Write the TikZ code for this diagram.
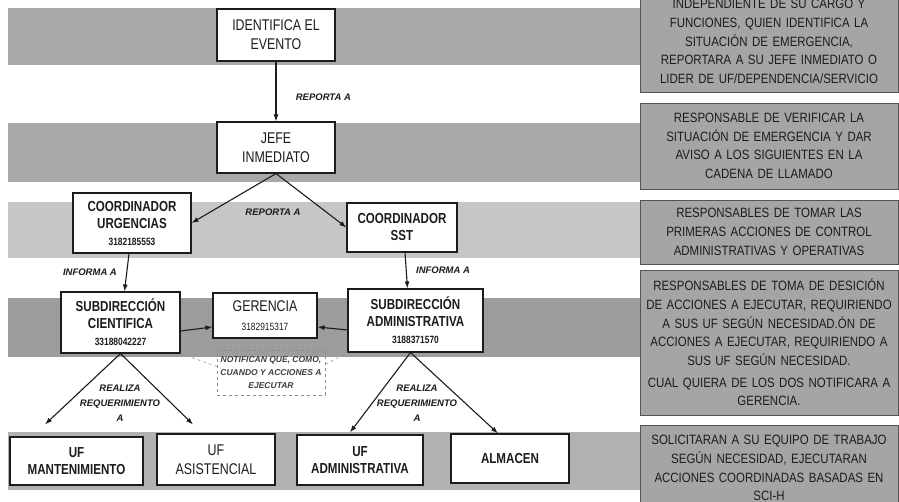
\documentclass[tikz,border=0pt]{standalone}
\usepackage{fontspec}
\setmainfont{Liberation Sans}
\newfontfamily\narrowfont[FakeStretch=0.8]{Liberation Sans}
\newfontfamily\sidefont[FakeStretch=0.85]{Liberation Sans}
\usepackage{tikz}
\usetikzlibrary{positioning,arrows.meta}
\definecolor{ink}{HTML}{1C1C1C}
\definecolor{bandA}{HTML}{A9A9A9}
\definecolor{bandB}{HTML}{C6C6C6}
\definecolor{bandC}{HTML}{9D9D9D}
\definecolor{side}{HTML}{A5A5A5}
\definecolor{faint}{HTML}{8C8C8C}
\newcommand{\tel}[1]{{\fontsize{10.5}{12}\selectfont\bfseries #1}}
\newcommand{\telr}[1]{{\fontsize{10.5}{12}\selectfont #1}}

\begin{document}
\begin{tikzpicture}[x=1pt,y=-1pt,every node/.style={text=ink},
    cell/.style={draw=ink,fill=white,line width=1.1pt,align=center,inner sep=2pt,
      font=\narrowfont\fontsize{15.5}{19}\selectfont},
    cellb/.style={cell,font=\narrowfont\bfseries\fontsize{14.5}{17}\selectfont},
    sidenote/.style={draw=ink!75,fill=side,line width=.8pt,text width=253pt,align=center,
      inner xsep=2.5pt,font=\sidefont\fontsize{13.5}{18.7}\selectfont},
    tag/.style={font=\bfseries\itshape\fontsize{9.5}{15}\selectfont,align=center},
    link/.style={-{Latex[length=7pt,width=5pt]},line width=1.1pt,ink}]
    \clip (0,0) rectangle (899,502);
    \fill[white] (0,0) rectangle (899,502);
    % grey bands behind each level
    \fill[bandA] (8,8) rectangle (640,65);
    \fill[bandA] (8,123) rectangle (640,182);
    \fill[bandB] (8,202) rectangle (640,258);
    \fill[bandC] (8,298) rectangle (640,357);
    \fill[bandA!90!white] (8,432) rectangle (640,490);
    % notes on the right
    \node[sidenote,anchor=south,inner ysep=9pt] (s1) at (769,93) {INDEPENDIENTE DE SU CARGO Y\\FUNCIONES, QUIEN IDENTIFICA LA\\SITUACIÓN DE EMERGENCIA,\\REPORTARA A SU JEFE INMEDIATO O\\LIDER DE UF/DEPENDENCIA/SERVICIO};
    \node[sidenote,minimum height=86pt] (s2) at (769,146) {RESPONSABLE DE VERIFICAR LA\\SITUACIÓN DE EMERGENCIA Y DAR\\AVISO A LOS SIGUIENTES EN LA\\CADENA DE LLAMADO};
    \node[sidenote,minimum height=64pt] (s3) at (769,232) {RESPONSABLES DE TOMAR LAS\\PRIMERAS ACCIONES DE CONTROL\\ADMINISTRATIVAS Y OPERATIVAS};
    \node[sidenote,minimum height=145pt] (s4) at (769,342.5) {RESPONSABLES DE TOMA DE DESICIÓN\\DE ACCIONES A EJECUTAR, REQUIRIENDO\\A SUS UF SEGÚN NECESIDAD.ÓN DE\\ACCIONES A EJECUTAR, REQUIRIENDO A\\SUS UF SEGÚN NECESIDAD.\\[3pt]CUAL QUIERA DE LOS DOS NOTIFICARA A\\GERENCIA.};
    \node[sidenote,anchor=north,inner ysep=10pt] (s5) at (769,425) {SOLICITARAN A SU EQUIPO DE TRABAJO\\SEGÚN NECESIDAD, EJECUTARAN\\ACCIONES COORDINADAS BASADAS EN\\SCI-H};
    % call chain
    \node[cell,minimum width=118pt,minimum height=52pt] (ident) at (276,35) {IDENTIFICA EL\\EVENTO};
    \node[cell,minimum width=118pt,minimum height=51pt] (jefe) at (276,147.5) {JEFE\\INMEDIATO};
    \node[cellb,minimum width=118pt,minimum height=60pt] (curg) at (132,223) {COORDINADOR\\URGENCIAS\\\tel{3182185553}};
    \node[cellb,minimum width=110pt,minimum height=49pt] (csst) at (402,227.5) {COORDINADOR\\SST};
    \node[cellb,minimum width=119pt,minimum height=61pt] (scien) at (120.5,322.5) {SUBDIRECCIÓN\\CIENTIFICA\\\tel{33188042227}};
    \node[cell,minimum width=104pt,minimum height=45pt] (ger) at (265,315.5) {GERENCIA\\\telr{3182915317}};
    \node[cellb,minimum width=135pt,minimum height=63pt] (sadm) at (415.5,320.5) {SUBDIRECCIÓN\\ADMINISTRATIVA\\\tel{3188371570}};
    \node[cellb,minimum width=133pt,minimum height=48pt] (ufm) at (76.5,461) {UF\\MANTENIMIENTO};
    \node[cell,minimum width=118pt,minimum height=51pt] (ufa) at (216,459.5) {UF\\ASISTENCIAL};
    \node[cellb,minimum width=126pt,minimum height=50pt] (ufadm) at (360,460) {UF\\ADMINISTRATIVA};
    \node[cellb,minimum width=118pt,minimum height=49pt] (alm) at (510,458.5) {ALMACEN};
    \node[draw=faint,dashed,line width=.6pt,minimum width=108pt,minimum height=45pt,align=center,
      font=\bfseries\itshape\fontsize{8.5}{13}\selectfont,text=ink!85] (note) at (271,372.5) {NOTIFICAN QUE, COMO,\\CUANDO Y ACCIONES A\\EJECUTAR};
    \draw[faint,dashed,line width=.5pt] (scien.south east) -- ([yshift=6pt]note.west);
    \draw[faint,dashed,line width=.5pt] ([yshift=8pt]note.east) -- (sadm.south west);
    % arrows
    \draw[link] (ident) -- (jefe) node[tag,pos=.6,right=16pt] (rep1) {REPORTA A};
    \draw[link] (jefe.south) -- (curg.east);
    \draw[link] (jefe.south) -- (csst.west);
    \node[tag] (rep2) at (273,212) {REPORTA A};
    \draw[link] ([xshift=-3pt]curg.south) -- ([xshift=4pt]scien.north) node[tag,midway,left=6pt] (inf1) {INFORMA A};
    \draw[link] ([xshift=3pt]csst.south) -- ([xshift=-8pt]sadm.north) node[tag,midway,right=6pt] (inf2) {INFORMA A};
    \draw[link] ([yshift=-8.5pt]scien.east) -- ([yshift=-11.5pt]ger.west);
    \draw[link] ([yshift=-9.5pt]sadm.west) -- ([yshift=-11.5pt]ger.east);
    \coordinate (tipM) at ([xshift=-31.5pt,yshift=12pt]ufm.north);
    \coordinate (tipA) at ([xshift=-23pt,yshift=9pt]ufa.north);
    \coordinate (tipD) at ([xshift=-10pt,yshift=2pt]ufadm.north);
    \coordinate (tipL) at ([xshift=-12pt]alm.north);
    \draw[link] (scien.south) -- (tipM);
    \draw[link] (scien.south) -- (tipA);
    \node[tag] (req1) at (120,403) {REALIZA\\REQUERIMIENTO\\A};
    \draw[link] ([xshift=-5pt]sadm.south) -- (tipD);
    \draw[link] ([xshift=-5pt]sadm.south) -- (tipL);
    \node[tag] (req2) at (417,403) {REALIZA\\REQUERIMIENTO\\A};
\end{tikzpicture}
\end{document}
